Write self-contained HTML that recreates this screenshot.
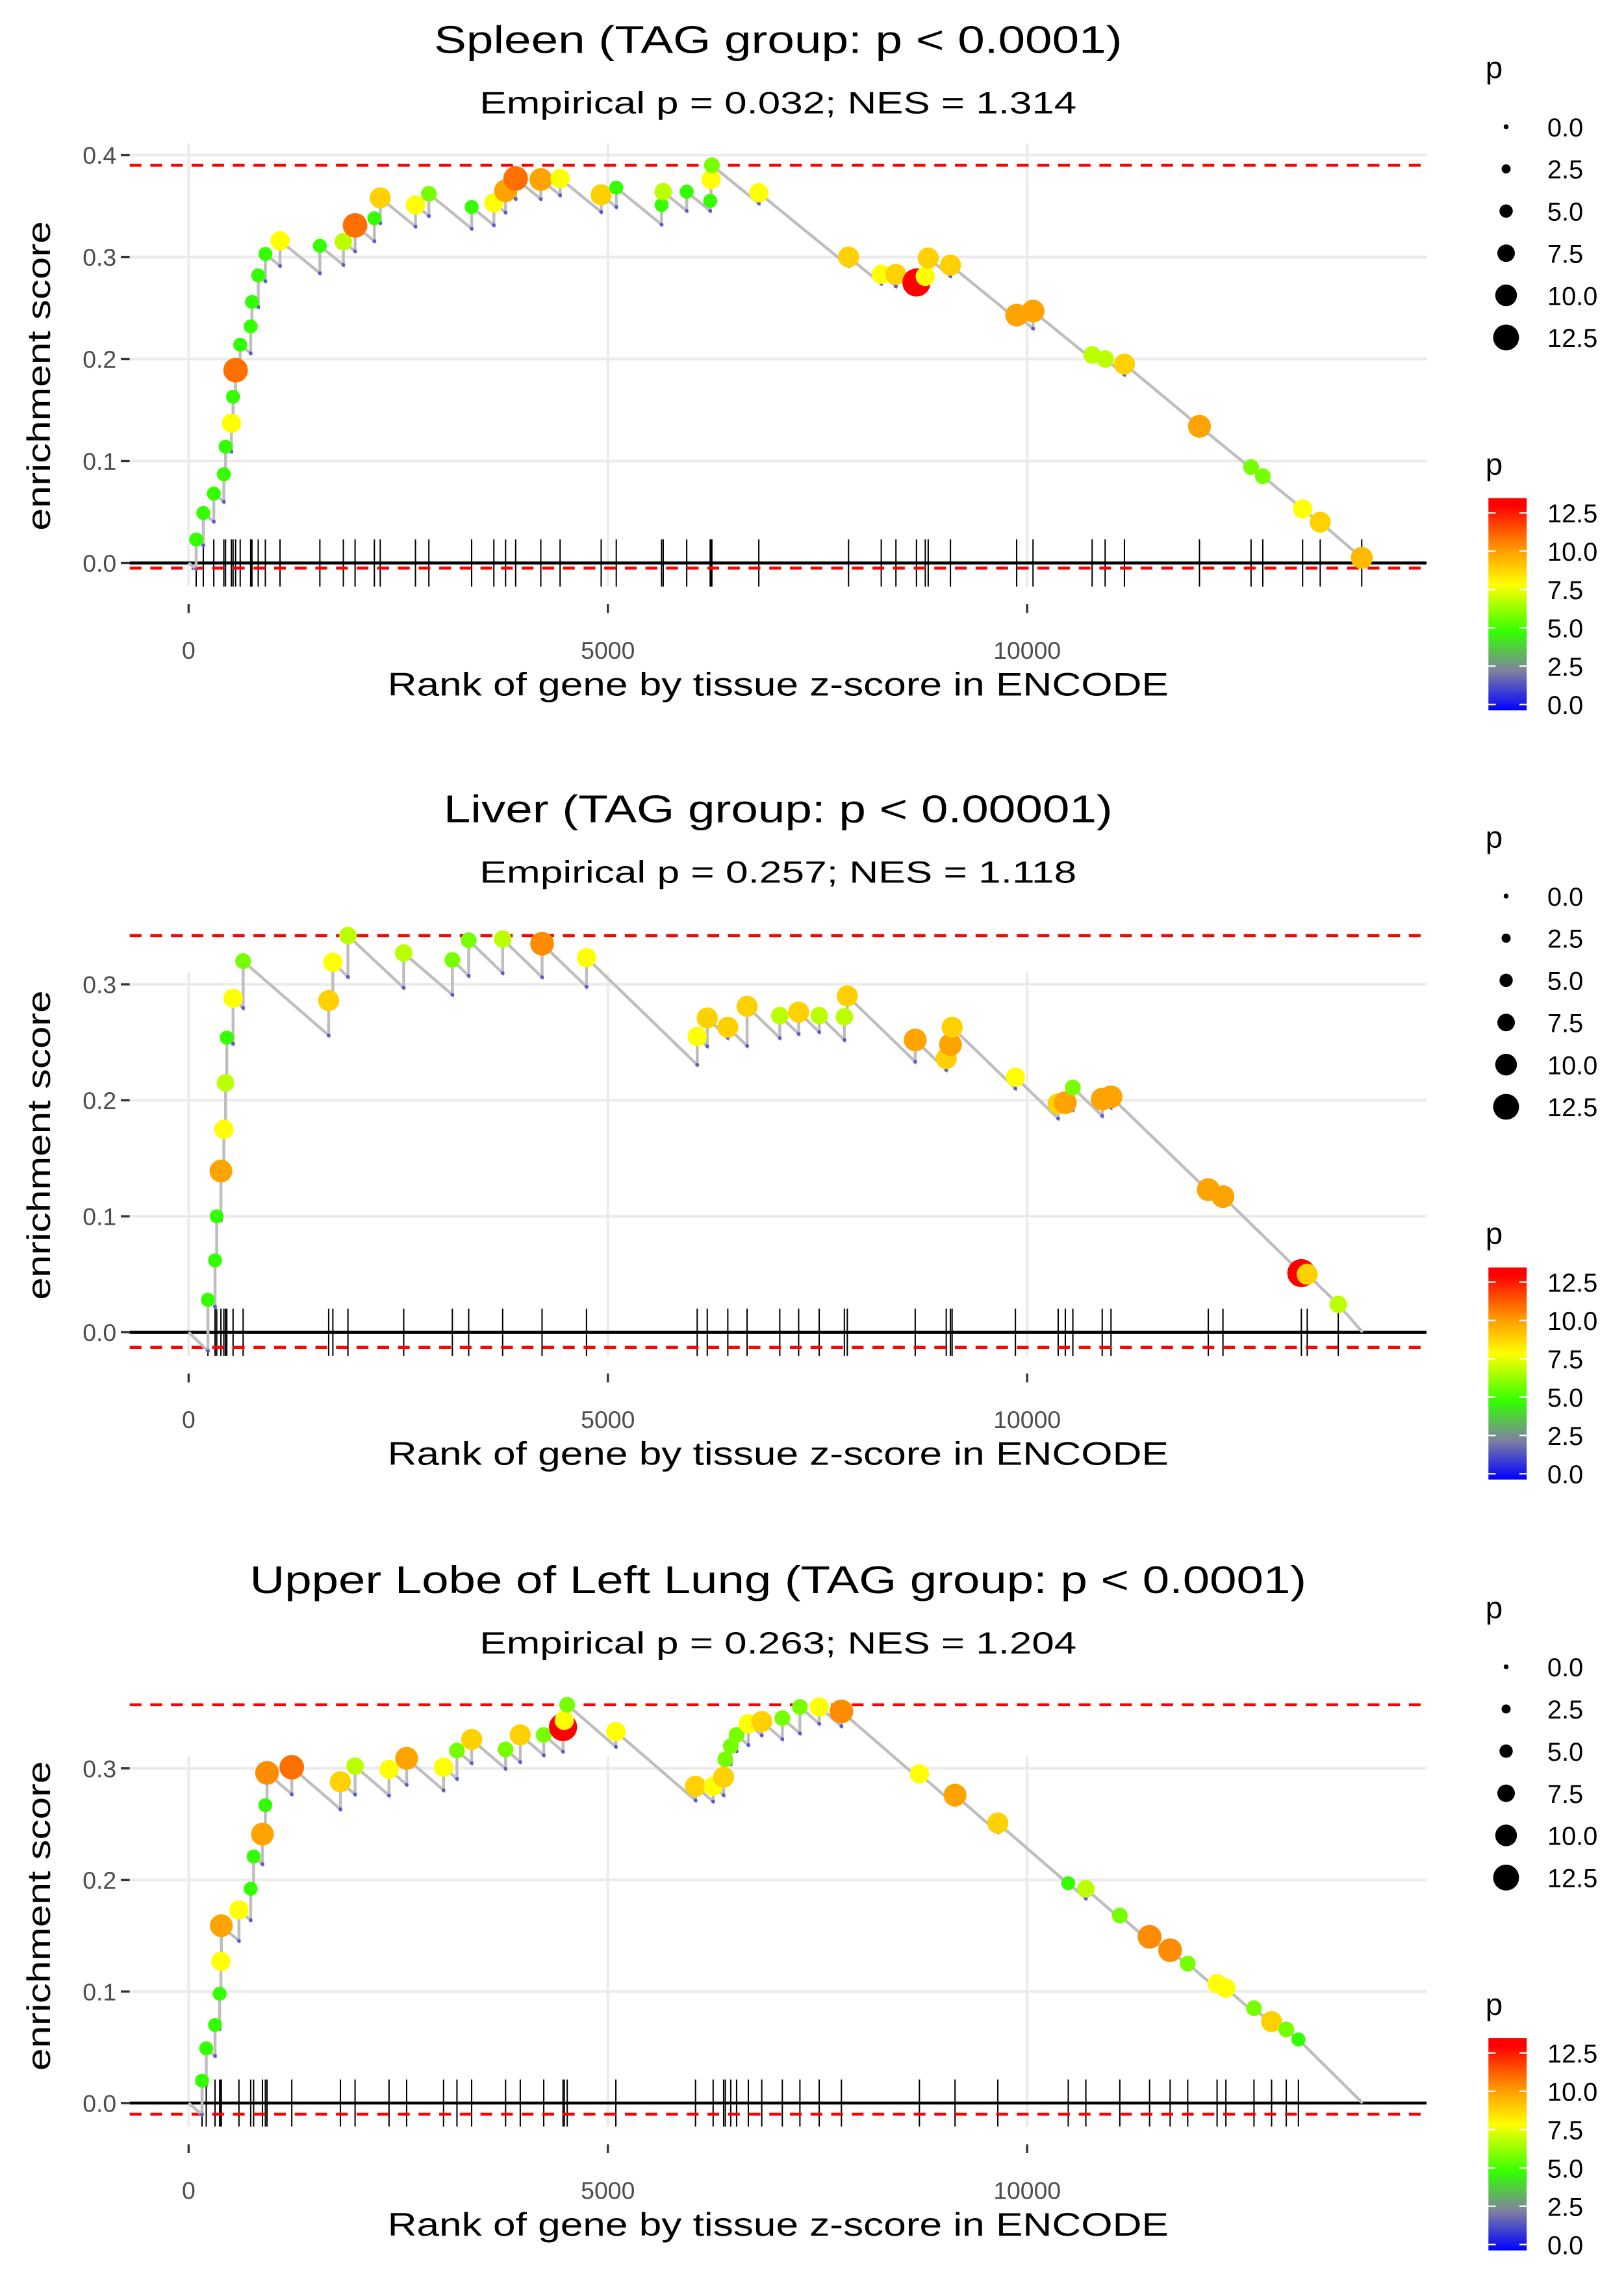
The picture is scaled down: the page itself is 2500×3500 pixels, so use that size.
<!DOCTYPE html>
<html><head><meta charset="utf-8"><style>
html,body{margin:0;padding:0;background:#fff;}
svg{display:block;font-family:"Liberation Sans",sans-serif;}
</style></head><body>
<svg id="chart" xmlns="http://www.w3.org/2000/svg" width="2500" height="3500" viewBox="0 0 1102 1543" preserveAspectRatio="none"></svg>
<script>
// ---- data: Spleen ----
const ranks1=[90,175,300,420,440,510,530,560,615,740,755,830,915,1090,1565,1845,1985,2215,2285,2705,2865,3375,3640,3780,3900,4200,4430,4920,5100,5640,5660,5940,6220,6230,6240,6800,7870,8260,8435,8680,8785,8820,9085,9875,10070,10775,10930,11160,12055,12670,12810,13285,13495,13990];
const es1=[0.023,0.049,0.068,0.087,0.114,0.137,0.163,0.189,0.214,0.232,0.256,0.282,0.303,0.316,0.311,0.315,0.331,0.338,0.358,0.351,0.362,0.349,0.353,0.365,0.377,0.376,0.377,0.361,0.368,0.351,0.364,0.364,0.355,0.376,0.39,0.363,0.30,0.283,0.283,0.275,0.281,0.299,0.292,0.243,0.247,0.204,0.2,0.195,0.134,0.094,0.085,0.053,0.04,0.005];
const p1=[5,5,5,5,5,8,5,11,5,5,5,5,5,8,5,7,11,5,9,8,6,5,8,10,11,10,8,9,5,5,7,5,5,8,6,8,9,8,9,13,8,9,9,10,10,7,7,9,10,6,6,8,9,9.5];
// ---- data: Liver ----
const ranks2=[230,315,335,385,420,440,455,530,650,1670,1720,1900,2565,3145,3340,3745,4215,4745,6065,6185,6430,6660,7050,7275,7520,7820,7855,8665,9035,9085,9105,9860,10370,10455,10545,10895,11000,12160,12335,13270,13340,13710];
const es2=[0.028,0.062,0.10,0.139,0.175,0.215,0.254,0.288,0.32,0.286,0.319,0.342,0.327,0.321,0.338,0.339,0.335,0.323,0.255,0.271,0.263,0.281,0.273,0.276,0.273,0.272,0.29,0.252,0.236,0.248,0.263,0.22,0.197,0.198,0.211,0.201,0.203,0.123,0.117,0.051,0.05,0.024];
const p2=[5,5,5,10,8,7,5,8,6,9,8,7,7,6,6,7,10.5,8,8,9,9,9,7,9,7,7,9,10,9,10,9,8,9,10,6,10,10,10,10,13,9,7];
// ---- data: Upper lobe of left lung ----
const ranks3=[160,210,315,370,385,390,600,740,775,880,915,935,1230,1810,1985,2390,2600,3040,3200,3375,3780,3955,4235,4465,4480,4515,5095,6045,6255,6380,6400,6465,6535,6675,6835,7080,7290,7520,7785,8715,9140,9650,10490,10700,11105,11460,11705,11915,12265,12370,12705,12915,13090,13235];
const es3=[0.02,0.049,0.07,0.098,0.127,0.159,0.173,0.192,0.221,0.241,0.267,0.296,0.301,0.288,0.302,0.299,0.309,0.301,0.316,0.326,0.317,0.33,0.33,0.337,0.343,0.357,0.333,0.284,0.284,0.292,0.308,0.32,0.33,0.34,0.342,0.345,0.355,0.355,0.351,0.295,0.276,0.251,0.197,0.192,0.168,0.149,0.137,0.125,0.107,0.103,0.085,0.073,0.066,0.057];
const p3=[5,5,5,5,8,10,8,5,5,10,5,10.5,11,9,7,8,10,8,6,9,6,9,6,13,8,6,8,9,8,9,6,6,6,8,9,6,6,8,10.5,8,10,9,5,7,6,10.5,10.5,6,8,8,6,9,6,5];
const xTicks=[0,5000,10000];
const sizeLegend=[0.0,2.5,5.0,7.5,10.0,12.5];
const colorLegend=[0.0,2.5,5.0,7.5,10.0,12.5];
const N=14000;

const panels=[
 {ranks:ranks1,es:es1,p:p1,title:"Spleen (TAG group: p < 0.0001)",tw:467,sub:"Empirical p = 0.032; NES = 1.314",y0:382,unit:692,yTicks:[0,0.1,0.2,0.3,0.4],minES:-0.005,slope:6.7e-5,off:0,key:'spleen'},
 {ranks:ranks2,es:es2,p:p2,title:"Liver (TAG group: p < 0.00001)",tw:454,sub:"Empirical p = 0.257; NES = 1.118",y0:904,unit:787,yTicks:[0,0.1,0.2,0.3],minES:-0.013,slope:7e-5,off:522,key:'liver'},
 {ranks:ranks3,es:es3,p:p3,title:"Upper Lobe of Left Lung (TAG group: p < 0.0001)",tw:717,sub:"Empirical p = 0.263; NES = 1.204",y0:1427,unit:757,yTicks:[0,0.1,0.2,0.3],minES:-0.01,slope:6.5e-5,off:1045,key:'lung'}
];
const svg=document.getElementById('chart');
const NS="http://www.w3.org/2000/svg";
function mk(tag,attrs,parent,text){const e=document.createElementNS(NS,tag);for(const k in attrs)e.setAttribute(k,attrs[k]);if(text!==undefined)e.textContent=text;(parent||svg).appendChild(e);return e;}
const X0=128,XPER=284.5/5000,PL=88,PR=968;
function xs(r){return X0+r*XPER;}
const stops=[[0,[0,0,255]],[2.5,[128,128,160]],[5,[51,255,0]],[8,[255,255,0]],[10.5,[255,140,0]],[13,[255,0,0]]];
function col(v){v=Math.max(0,Math.min(13,v));for(let i=1;i<stops.length;i++){if(v<=stops[i][0]){const a=stops[i-1],b=stops[i],t=(v-a[0])/(b[0]-a[0]);const c=a[1].map((x,j)=>Math.round(x+(b[1][j]-x)*t));return `rgb(${c[0]},${c[1]},${c[2]})`;}}return 'rgb(255,0,0)';}
function rad(v){return 1.75+0.6*v;}

panels.forEach(P=>{
 const g=mk('g',{});
 
 
 const ys=v=>P.y0-v*P.unit;
 const top=ys(P.yTicks[P.yTicks.length-1])-8;
 const bottom=P.y0+16;
 P.yTicks.forEach(t=>{const l=mk('line',{x1:PL,x2:PR,y1:ys(t),y2:ys(t),stroke:'#ebebeb','stroke-width':1.8},g);});
 xTicks.forEach(t=>{const l=mk('line',{x1:xs(t),x2:xs(t),y1:top,y2:bottom,stroke:'#ebebeb','stroke-width':1.8},g);});
 P.yTicks.forEach(t=>{const e=mk('text',{x:79,y:ys(t)+6,'font-size':16.5,fill:'#4d4d4d','text-anchor':'end'},g,t.toFixed(1));
  const tk=mk('line',{x1:82,x2:88,y1:ys(t),y2:ys(t),stroke:'#333','stroke-width':1.5},g);});
 xTicks.forEach(t=>{const e=mk('text',{x:xs(t),y:P.y0+65,'font-size':16.5,fill:'#4d4d4d','text-anchor':'middle'},g,String(t));
  const tk=mk('line',{x1:xs(t),x2:xs(t),y1:P.y0+28,y2:P.y0+34,stroke:'#333','stroke-width':1.5},g);});
 const z=mk('line',{x1:PL,x2:PR,y1:ys(0),y2:ys(0),stroke:'#000','stroke-width':2},g);
 P.ranks.forEach(r=>{const l=mk('line',{x1:xs(r),x2:xs(r),y1:P.y0-16,y2:P.y0+16,stroke:'#000','stroke-width':0.9},g);});
 const mx=Math.max(...P.es);
 [mx,P.minES].forEach((v,i)=>{const l=mk('line',{x1:PL,x2:PR,y1:ys(v),y2:ys(v),stroke:'#ff0000','stroke-width':2,'stroke-dasharray':'8,6'},g);});
 let pts=[[0,0]],troughs=[];let prevR=0,prevE=0;
 P.ranks.forEach((r,i)=>{let tr=Math.min(prevE-P.slope*(r-prevR),P.es[i]);tr=Math.max(tr,Math.min(prevE,P.es[i])-0.03);pts.push([r,tr]);troughs.push([r,tr]);pts.push([r,P.es[i]]);prevR=r;prevE=P.es[i];});
 pts.push([N,0]);
 const pl=mk('polyline',{points:pts.map(q=>xs(q[0]).toFixed(2)+','+ys(q[1]).toFixed(2)).join(' '),fill:'none',stroke:'#bebebe','stroke-width':2},g);
 
 troughs.forEach(q=>{const c=mk('circle',{cx:xs(q[0]),cy:ys(q[1]),r:1.3,fill:'#5a5ad0'},g);});
 P.ranks.forEach((r,i)=>{const c=mk('circle',{cx:xs(r),cy:ys(P.es[i]),r:rad(P.p[i]),fill:col(P.p[i])},g);});
 const t1=mk('text',{x:528,y:P.off+36,'font-size':26,'text-anchor':'middle',textLength:P.tw,lengthAdjust:'spacingAndGlyphs'},g,P.title);
 const t2=mk('text',{x:528,y:P.off+77,'font-size':21,'text-anchor':'middle',textLength:405,lengthAdjust:'spacingAndGlyphs'},g,P.sub);
 const xt=mk('text',{x:528,y:P.off+472,'font-size':22,'text-anchor':'middle',textLength:530,lengthAdjust:'spacingAndGlyphs'},g,'Rank of gene by tissue z-score in ENCODE');
 const yt=mk('text',{x:0,y:0,'font-size':22,'text-anchor':'middle',textLength:210,lengthAdjust:'spacingAndGlyphs',transform:`translate(34,${P.off+255}) rotate(-90)`},g,'enrichment score');
 const sl=mk('text',{x:1008,y:P.off+53,'font-size':21},g,'p');
 sizeLegend.forEach((v,i)=>{const y=P.off+86+i*28.6;
  const c=mk('circle',{cx:1022,cy:y,r:rad(v)*0.95,fill:'#000'},g);
  const t=mk('text',{x:1050,y:y+6.5,'font-size':17.5},g,v.toFixed(1));});
 const cl=mk('text',{x:1008,y:P.off+322,'font-size':21},g,'p');
 const gid='grad'+P.key;
 const lg=mk('linearGradient',{id:gid,x1:0,y1:1,x2:0,y2:0},mk('defs',{},g));
 for(let v=0;v<=13.5;v+=0.5){mk('stop',{offset:(v/13.5).toFixed(3),'stop-color':col(v)},lg);}
 const cbTop=P.off+338,cbBot=P.off+482,cbv=v=>cbBot-4-v*(cbBot-4-(P.off+348))/12.5;
 const rb=mk('rect',{x:1010,y:cbTop,width:26,height:cbBot-cbTop,fill:`url(#${gid})`},g);
 colorLegend.forEach(v=>{const y=cbv(v);
  mk('line',{x1:1010,x2:1015,y1:y,y2:y,stroke:'#fff','stroke-width':1},g);mk('line',{x1:1031,x2:1036,y1:y,y2:y,stroke:'#fff','stroke-width':1},g);
  const t=mk('text',{x:1050,y:y+6.5,'font-size':17.5},g,v.toFixed(1));});
});
</script>
</body></html>
